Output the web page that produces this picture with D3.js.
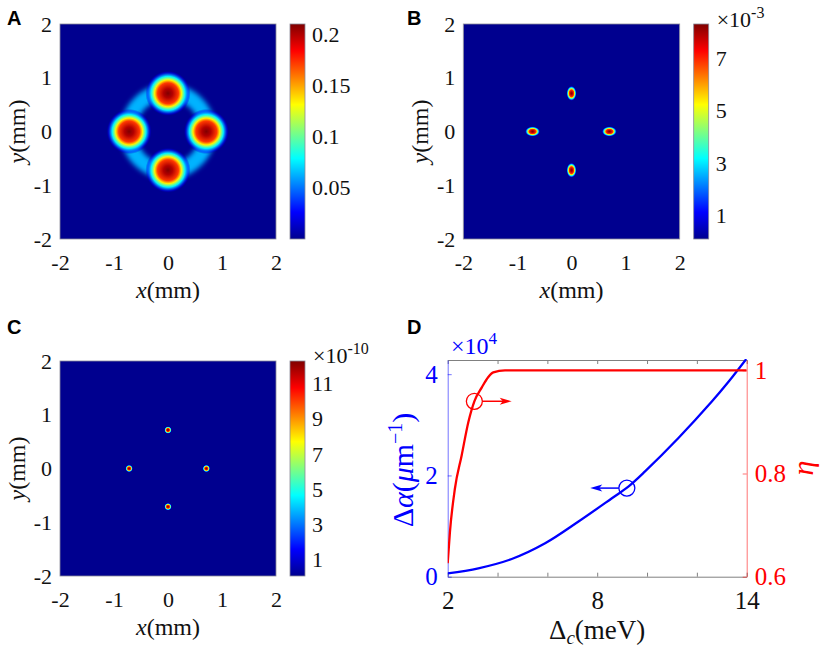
<!DOCTYPE html>
<html>
<head>
<meta charset="utf-8">
<title>Beam spots and detuning</title>
<style>
  body { margin: 0; background: #fff; }
  svg { display: block; }
</style>
</head>
<body>
<script src="https://cdnjs.cloudflare.com/ajax/libs/d3/7.8.5/d3.min.js"></script>
<script>

// ---- values ----
var mmTicks = [-2, -1, 0, 1, 2];

// panel A : four bright spots sitting on a faint ring
var spotXA = [0, 0.71, 0, -0.72], spotYA = [0.71, 0, -0.72, 0];
var spotRxA = [0.42, 0.42, 0.42, 0.42], spotRyA = [0.42, 0.42, 0.42, 0.42];
var ringA = [0.74];              // ring radius (mm)
var ringLevelA = 0.3;            // ring brightness, share of colour range
var cbarA = [0, 0.21], cbarTicksA = [0.05, 0.1, 0.15, 0.2];

// panel B : ×10^-3
var spotXB = [0, 0.70, 0, -0.72], spotYB = [0.71, 0, -0.72, 0];
var spotRxB = [0.095, 0.14, 0.095, 0.14], spotRyB = [0.14, 0.095, 0.14, 0.095];
var cbarB = [0.1, 8.3], cbarTicksB = [1, 3, 5, 7];

// panel C : ×10^-10
var spotXC = [0, 0.71, 0, -0.72], spotYC = [0.716, 0, -0.71, 0];
var spotRxC = [0.07, 0.07, 0.07, 0.07], spotRyC = [0.07, 0.07, 0.07, 0.07];
var cbarC = [0.05, 12.3], cbarTicksC = [1, 3, 5, 7, 9, 11];

// radial profile of a spot: share of radius -> share of peak value
var profileR = [0, 0.2, 0.46, 0.59, 0.66, 0.75, 0.84, 0.93, 1];
var profileV = [1, 0.95, 0.82, 0.64, 0.5, 0.36, 0.24, 0.12, 0];

// panel D
var alphaX = [2, 3.23, 4.57, 5.91, 7.25, 8.59, 9.25, 9.92, 11.26, 12.6, 13.27, 14];
var alphaY = [0.067, 0.166, 0.35, 0.66, 1.09, 1.55, 1.78, 2.08, 2.74, 3.46, 3.85, 4.31];   // ×10^4 µm^-1
var etaX = [2, 2.09, 2.29, 2.56, 2.83, 3.07, 3.37, 3.63, 3.83, 4.3, 14];
var etaY = [0.626, 0.687, 0.771, 0.835, 0.9, 0.94, 0.967, 0.987, 0.996, 1.0, 1.0];
var detTicks = [2, 4, 6, 8, 10, 12, 14], detLabels = [2, 8, 14];
var alphaTicks = [0, 2, 4], etaTicks = [0.6, 0.8, 1];
var etaMark = [3.07, 0.94, 4.57];     // circle x, circle eta, arrow tip x
var alphaMark = [9.19, 1.75, 7.72];   // circle x, circle alpha, arrow tip x

// jet colour map
var jetStops = [0, 0.125, 0.375, 0.625, 0.875, 1];
var jetColors = ["#00008f", "#0000ff", "#00ffff", "#ffff00", "#ff0000", "#800000"];
var jet = d3.scaleLinear().domain(jetStops).range(jetColors).clamp(true);

var SERIF = "Liberation Serif";
var svg = d3.select("body").append("svg").attr("width", 823).attr("height", 647)
    .attr("font-family", SERIF);
var defs = svg.append("defs");

var cg = defs.append("linearGradient").attr("id", "jetbar")
    .attr("x1", 0).attr("y1", 1).attr("x2", 0).attr("y2", 0);
jetStops.forEach(function (s, i) {
    cg.append("stop").attr("offset", s).attr("stop-color", jetColors[i]);
});

var sg = defs.append("radialGradient").attr("id", "spot");
profileR.forEach(function (r, i) {
    sg.append("stop").attr("offset", r)
        .attr("stop-color", jet(profileV[i]))
        .attr("stop-opacity", Math.min(1, profileV[i] / 0.3));
});

defs.append("filter").attr("id", "soft")
    .attr("x", "-20%").attr("y", "-20%").attr("width", "140%").attr("height", "140%")
    .append("feGaussianBlur").attr("stdDeviation", 2.5);

function styleAxis(a, size, col) {
    a.attr("font-family", SERIF).attr("font-size", null);
    a.selectAll("text").attr("font-family", SERIF).attr("font-size", size).attr("fill", col);
}

function panelLetter(t, x, y) {
    svg.append("text").attr("x", x).attr("y", y)
        .attr("font-family", "Liberation Sans").attr("font-weight", "bold").attr("font-size", 20)
        .text(t);
}

function heatPanel(o) {
    var g = svg.append("g");
    var x = d3.scaleLinear().domain([-2, 2]).range([o.x0, o.x1]);
    var y = d3.scaleLinear().domain([-2, 2]).range([o.y1, o.y0]);

    g.append("clipPath").attr("id", o.id + "clip").append("rect")
        .attr("x", o.x0).attr("y", o.y0).attr("width", o.x1 - o.x0).attr("height", o.y1 - o.y0);
    var img = g.append("g").attr("clip-path", "url(#" + o.id + "clip)");
    img.append("rect")
        .attr("x", o.x0).attr("y", o.y0).attr("width", o.x1 - o.x0).attr("height", o.y1 - o.y0)
        .attr("fill", jet(0));

    if (o.ring) {
        img.selectAll(".ring").data(o.ring).enter().append("circle")
            .attr("cx", x(0)).attr("cy", y(0))
            .attr("r", function (d) { return x(d) - x(0); })
            .attr("fill", "none")
            .attr("stroke", jet(o.ringLevel))
            .attr("stroke-width", x(0.28) - x(0))
            .attr("filter", "url(#soft)");
    }

    img.selectAll(".spot").data(o.sx).enter().append("ellipse")
        .attr("cx", function (d) { return x(d); })
        .attr("cy", function (d, i) { return y(o.sy[i]); })
        .attr("rx", function (d, i) { return x(o.rx[i]) - x(0); })
        .attr("ry", function (d, i) { return x(o.ry[i]) - x(0); })
        .attr("fill", "url(#spot)");

    g.append("rect")
        .attr("x", o.x0).attr("y", o.y0).attr("width", o.x1 - o.x0).attr("height", o.y1 - o.y0)
        .attr("fill", "none").attr("stroke", "#8a8a9a").attr("stroke-width", 0.8);

    var ax = g.append("g").attr("transform", "translate(0," + o.y1 + ")")
        .call(d3.axisBottom(x).tickValues(mmTicks).tickSize(0).tickPadding(15).tickFormat(String));
    var ay = g.append("g").attr("transform", "translate(" + o.x0 + ",0)")
        .call(d3.axisLeft(y).tickValues(mmTicks).tickSize(0).tickPadding(8).tickFormat(String));
    [ax, ay].forEach(function (a) {
        a.select(".domain").remove();
        styleAxis(a, 22, "#111");
    });

    g.append("text").attr("x", (o.x0 + o.x1) / 2).attr("y", o.y1 + 59)
        .attr("text-anchor", "middle").attr("font-size", 24).attr("fill", "#111")
        .call(function (t) {
            t.append("tspan").attr("font-style", "italic").text("x");
            t.append("tspan").text("(mm)");
        });
    g.append("text")
        .attr("transform", "translate(" + (o.x0 - 35) + "," + (o.y0 + o.y1) / 2 + ") rotate(-90)")
        .attr("text-anchor", "middle").attr("font-size", 24).attr("fill", "#111")
        .call(function (t) {
            t.append("tspan").attr("font-style", "italic").text("y");
            t.append("tspan").text("(mm)");
        });

    // colour bar
    var cb0 = o.x1 + 14, cbw = 15;
    var c = d3.scaleLinear().domain(o.cdom).range([o.y1, o.y0]);
    g.append("rect").attr("x", cb0).attr("y", o.y0).attr("width", cbw).attr("height", o.y1 - o.y0)
        .attr("fill", "url(#jetbar)").attr("stroke", "#8a8a9a").attr("stroke-width", 0.8);
    var ac = g.append("g").attr("transform", "translate(" + (cb0 + cbw) + ",0)")
        .call(d3.axisRight(c).tickValues(o.cticks).tickSize(0).tickPadding(7).tickFormat(String));
    ac.select(".domain").remove();
    styleAxis(ac, 22, "#111");

    if (o.exp) {
        var e = g.append("text").attr("x", cb0 + cbw + 8).attr("y", o.y0 + o.expDy)
            .attr("font-size", 22).attr("fill", "#111");
        e.append("tspan").text("\u00d710");
        e.append("tspan").attr("dy", -9).attr("font-size", 16).text(o.exp);
    }

    panelLetter(o.id, o.lx, o.ly);
}

heatPanel({ id: "A", x0: 60, x1: 276, y0: 24, y1: 239, sx: spotXA, sy: spotYA, rx: spotRxA, ry: spotRyA,
    ring: ringA, ringLevel: ringLevelA, cdom: cbarA, cticks: cbarTicksA, lx: 7, ly: 25 });
heatPanel({ id: "B", x0: 463.3, x1: 679.7, y0: 24, y1: 239, sx: spotXB, sy: spotYB, rx: spotRxB, ry: spotRyB,
    cdom: cbarB, cticks: cbarTicksB, exp: "-3", expDy: 3, lx: 407, ly: 25 });
heatPanel({ id: "C", x0: 60, x1: 276, y0: 361, y1: 576, sx: spotXC, sy: spotYC, rx: spotRxC, ry: spotRyC,
    cdom: cbarC, cticks: cbarTicksC, exp: "-10", expDy: 2, lx: 7, ly: 334 });

// ---- panel D ----
(function () {
    var x0 = 447.7, x1 = 746.7, y0 = 360, y1 = 576.7;
    var blue = "#0000ff", red = "#ff0000";
    var g = svg.append("g");
    var x = d3.scaleLinear().domain([2, 14]).range([x0, x1]);
    var yl = d3.scaleLinear().domain([0, 4.28]).range([y1, y0]);
    var yr = d3.scaleLinear().domain([0.6, 1.02]).range([y1, y0]);

    g.append("clipPath").attr("id", "Dclip").append("rect")
        .attr("x", x0).attr("y", y0 - 1).attr("width", x1 - x0).attr("height", y1 - y0 + 2);

    // top / bottom frame with inward ticks
    var bx = g.append("g").attr("transform", "translate(0," + y1 + ")")
        .call(d3.axisBottom(x).tickValues(detTicks).tickSizeInner(-4).tickSizeOuter(0).tickPadding(15)
            .tickFormat(function (d) { return detLabels.indexOf(d) >= 0 ? String(d) : ""; }));
    var tx = g.append("g").attr("transform", "translate(0," + y0 + ")")
        .call(d3.axisTop(x).tickValues(detTicks).tickSizeInner(-4).tickSizeOuter(0).tickFormat(""));
    [bx, tx].forEach(function (a) {
        a.select(".domain").attr("stroke", "#808080");
        a.selectAll(".tick line").attr("stroke", "#808080");
        styleAxis(a, 25, "#111");
    });

    var lax = g.append("g").attr("transform", "translate(" + x0 + ",0)")
        .call(d3.axisLeft(yl).tickValues(alphaTicks).tickSizeInner(-4).tickSizeOuter(0).tickPadding(10).tickFormat(String));
    lax.select(".domain").attr("stroke", blue).attr("stroke-opacity", 0.55);
    lax.selectAll(".tick line").attr("stroke", blue).attr("stroke-opacity", 0.55);
    styleAxis(lax, 25, blue);

    var rax = g.append("g").attr("transform", "translate(" + x1 + ",0)")
        .call(d3.axisRight(yr).tickValues(etaTicks).tickSizeInner(-4).tickSizeOuter(0).tickPadding(8).tickFormat(String));
    rax.select(".domain").attr("stroke", red).attr("stroke-opacity", 0.55);
    rax.selectAll(".tick line").attr("stroke", red).attr("stroke-opacity", 0.55);
    styleAxis(rax, 25, red);

    var alphaLine = d3.line().x(function (d) { return x(d); })
        .y(function (d, i) { return yl(alphaY[i]); }).curve(d3.curveCatmullRom);
    var etaLine = d3.line().x(function (d) { return x(d); })
        .y(function (d, i) { return yr(etaY[i]); }).curve(d3.curveMonotoneX);
    var lines = g.append("g").attr("clip-path", "url(#Dclip)");
    lines.append("path").attr("d", alphaLine(alphaX)).attr("fill", "none").attr("stroke", blue).attr("stroke-width", 2.3);
    lines.append("path").attr("d", etaLine(etaX)).attr("fill", "none").attr("stroke", red).attr("stroke-width", 2.3);

    // circles with arrows pointing to the matching axis
    function mark(cx, cy, tip, col) {
        var r = 8;
        g.append("circle").attr("cx", cx).attr("cy", cy).attr("r", r)
            .attr("fill", "none").attr("stroke", col).attr("stroke-width", 1.3);
        var dir = tip > cx ? 1 : -1;
        g.append("line").attr("x1", cx + dir * r).attr("y1", cy).attr("x2", tip - dir * 6).attr("y2", cy)
            .attr("stroke", col).attr("stroke-width", 1.5);
        g.append("path")
            .attr("d", "M" + tip + "," + cy + "L" + (tip - dir * 12) + "," + (cy - 3.5) +
                "L" + (tip - dir * 9) + "," + cy + "L" + (tip - dir * 12) + "," + (cy + 3.5) + "Z")
            .attr("fill", col);
    }
    mark(x(etaMark[0]), yr(etaMark[1]), x(etaMark[2]), red);
    mark(x(alphaMark[0]), yl(alphaMark[1]), x(alphaMark[2]), blue);

    // exponent of the left axis
    var e = g.append("text").attr("x", 451).attr("y", 354).attr("font-size", 24).attr("fill", blue);
    e.append("tspan").text("\u00d710");
    e.append("tspan").attr("dy", -10).attr("font-size", 17).text("4");

    // axis titles
    var xl = g.append("text").attr("x", (x0 + x1) / 2).attr("y", 639)
        .attr("text-anchor", "middle").attr("font-size", 27).attr("fill", "#111");
    xl.append("tspan").text("\u0394");
    xl.append("tspan").attr("font-style", "italic").attr("font-size", 19).attr("dy", 5).text("c");
    xl.append("tspan").attr("dy", -5).text("(meV)");

    var ylt = g.append("text").attr("transform", "translate(413," + 470 + ") rotate(-90)")
        .attr("text-anchor", "middle").attr("font-size", 30).attr("fill", blue);
    ylt.append("tspan").text("\u0394");
    ylt.append("tspan").attr("font-style", "italic").text("\u03b1");
    ylt.append("tspan").text("(");
    ylt.append("tspan").attr("font-style", "italic").text("\u03bc");
    ylt.append("tspan").text("m");
    ylt.append("tspan").attr("dy", -11).attr("font-size", 20).text("\u22121");
    ylt.append("tspan").attr("dy", 11).text(")");

    g.append("text").attr("transform", "translate(813," + 468 + ") rotate(-90)")
        .attr("text-anchor", "middle").attr("font-size", 30).attr("font-style", "italic")
        .attr("fill", red).text("\u03b7");

    panelLetter("D", 407, 334);
})();
</script>
</body>
</html>
